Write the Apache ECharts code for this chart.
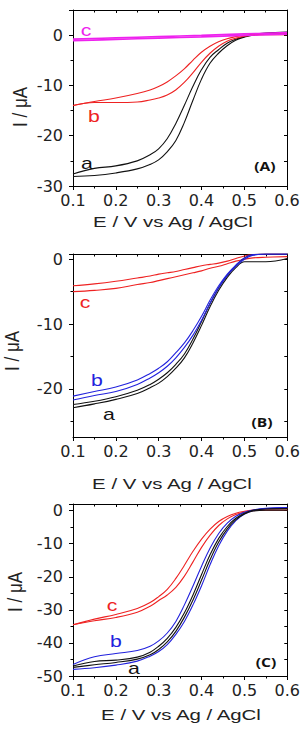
<!DOCTYPE html>
<html><head><meta charset="utf-8">
<script src="https://cdn.jsdelivr.net/npm/echarts@6/dist/echarts.min.js"></script>
<style>html,body{margin:0;padding:0;background:#fff}#c{width:303px;height:732px}</style>
</head><body><div id="c"></div>
<script>
// Potential grid (V vs Ag/AgCl)
const E = [0.10,0.15,0.20,0.25,0.28,0.30,0.32,0.34,0.36,0.38,0.40,0.42,0.44,0.46,0.48,0.50,0.52,0.55,0.60];
const E_lin = [0.1,0.2,0.3,0.4,0.5,0.6];

// Tick values
const xMin = 0.1, xMax = 0.6, xStep = 0.1;
const yMajorA = [-30,-20,-10,0], yMinorA = [-25,-15,-5];
const yMajorB = [-20,-10,0],     yMinorB = [-25,-15,-5];
const yMajorC = [-50,-40,-30,-20,-10,0], yMinorC = [-45,-35,-25,-15,-5];

// Panel A (current, µA)
const A_a_up  = [-27.6,-26.5,-26.0,-25.0,-23.8,-22.6,-20.6,-17.6,-14.0,-10.2,-6.9,-4.4,-2.9,-1.6,-0.8,-0.3,0.1,0.4,0.6];
const A_a_dn  = [-28.1,-27.9,-27.4,-26.6,-25.7,-24.8,-23.2,-21.0,-17.4,-13.0,-8.8,-5.6,-3.6,-2.1,-1.0,-0.4,0.0,0.2,0.3];
const A_b_up  = [-14.0,-13.2,-12.5,-11.6,-10.9,-10.2,-9.3,-8.1,-6.7,-5.0,-3.4,-2.2,-1.3,-0.7,-0.3,0.0,0.1,0.2,0.3];
const A_b_dn  = [-14.0,-13.4,-13.4,-13.3,-12.9,-12.5,-11.9,-10.9,-9.4,-7.5,-5.4,-3.6,-2.2,-1.2,-0.6,-0.2,0.0,0.1,0.1];
const A_c_up  = [-0.8,-0.55,-0.3,-0.05,0.25,0.5];
const A_c_dn  = [-1.1,-0.85,-0.6,-0.35,-0.05,0.2];

// Panel B
const B_c_up  = [-4.1,-3.8,-3.4,-2.9,-2.6,-2.3,-2.1,-1.9,-1.6,-1.3,-1.0,-0.8,-0.6,-0.3,0.1,0.5,0.7,0.8,0.8];
const B_c_dn  = [-5.0,-4.8,-4.5,-3.9,-3.6,-3.3,-3.0,-2.7,-2.4,-2.1,-1.8,-1.4,-1.1,-0.7,-0.3,0.0,0.2,0.3,0.4];
const B_a_up  = [-22.4,-21.9,-21.2,-20.2,-19.3,-18.5,-17.5,-16.2,-14.6,-12.3,-9.6,-6.8,-4.4,-2.5,-1.0,0.2,0.7,0.8,0.8];
const B_a_dn  = [-22.9,-22.3,-21.6,-20.7,-19.8,-19.1,-18.1,-16.8,-15.2,-12.9,-10.2,-7.3,-4.8,-2.8,-1.3,-0.4,-0.4,-0.4,0.1];
const B_b_up  = [-21.1,-20.4,-19.7,-18.6,-17.6,-16.8,-15.8,-14.4,-12.9,-11.0,-8.8,-6.3,-4.1,-2.3,-0.9,0.2,0.7,0.8,0.8];
const B_b_dn  = [-21.7,-21.0,-20.4,-19.3,-18.3,-17.5,-16.5,-15.2,-13.6,-11.7,-9.4,-6.8,-4.4,-2.5,-1.1,0.0,0.6,0.8,0.8];

// Panel C
const C_c_up  = [-34.5,-32.8,-31.4,-29.6,-27.8,-26.0,-23.8,-20.5,-16.5,-12.3,-8.6,-5.6,-3.3,-1.8,-0.8,-0.2,0.2,0.5,0.6];
const C_c_dn  = [-34.5,-33.3,-32.3,-30.7,-28.9,-27.2,-25.5,-23.2,-19.8,-15.5,-11.1,-7.4,-4.5,-2.5,-1.2,-0.4,0.0,0.1,0.1];
const C_b_up  = [-46.5,-44.2,-43.2,-42.3,-41.0,-39.4,-37.0,-33.5,-28.5,-22.8,-16.8,-11.3,-6.9,-3.8,-1.7,-0.5,0.2,0.7,0.9];
const C_b_dn  = [-48.0,-47.5,-46.7,-45.5,-44.0,-42.6,-40.5,-37.4,-33.5,-28.5,-22.7,-16.3,-10.6,-6.2,-3.0,-1.0,0.0,0.6,0.9];
const C_a_up  = [-47.0,-45.6,-45.2,-44.3,-42.8,-41.0,-38.6,-35.3,-30.9,-25.5,-19.3,-13.3,-8.4,-4.8,-2.3,-0.8,0.1,0.5,0.6];
const C_a_dn  = [-47.4,-46.6,-45.9,-44.9,-43.6,-42.0,-39.7,-36.5,-32.2,-27.0,-21.0,-14.8,-9.5,-5.5,-2.7,-1.0,-0.1,0.1,0.1];

const BLACK = '#111111', RED = '#ee2222', BLUE = '#2222dd', MAGENTA = '#ee22ee';

const panels = [
  { grid:{left:73, top:10, width:214, height:176}, yMin:-30, yMax:5, yMajor:yMajorA, yMinor:yMinorA,
    curves:[ {x:E, ys:[A_a_up, A_a_dn], color:BLACK}, {x:E, ys:[A_b_up, A_b_dn], color:RED},
             {x:E_lin, ys:[A_c_up, A_c_dn], color:MAGENTA, width:1.6} ] },
  { grid:{left:73, top:254, width:216, height:183}, yMin:-27.4, yMax:0.8, yMajor:yMajorB, yMinor:yMinorB,
    curves:[ {x:E, ys:[B_c_up, B_c_dn], color:RED}, {x:E, ys:[B_a_up, B_a_dn], color:BLACK},
             {x:E, ys:[B_b_up, B_b_dn], color:BLUE} ] },
  { grid:{left:73, top:504, width:216, height:172}, yMin:-50, yMax:2, yMajor:yMajorC, yMinor:yMinorC,
    curves:[ {x:E, ys:[C_c_up, C_c_dn], color:RED}, {x:E, ys:[C_b_up, C_b_dn], color:BLUE},
             {x:E, ys:[C_a_up, C_a_dn], color:BLACK} ] }
];

const axisLine = {show:true, onZero:false, lineStyle:{color:'#000', width:1}};
const tickFont = {color:'#222', fontSize:16, fontFamily:'DejaVu Sans'};
const grids = [], xAxes = [], yAxes = [], series = [];
panels.forEach((p, i) => {
  grids.push(Object.assign({containLabel:false}, p.grid));
  xAxes.push({gridIndex:i, type:'value', position:'bottom', min:xMin, max:xMax, interval:xStep,
    axisLine, axisTick:{show:true, inside:false, length:4, lineStyle:{color:'#000'}},
    minorTick:{show:true, splitNumber:2, length:2.5, lineStyle:{color:'#000'}},
    axisLabel:Object.assign({margin:6, formatter:v => v.toFixed(1)}, tickFont),
    splitLine:{show:false}, minorSplitLine:{show:false}});
  xAxes.push({gridIndex:i, type:'value', position:'top', min:xMin, max:xMax, interval:xStep,
    axisLine, axisTick:{show:true, inside:true, length:3, lineStyle:{color:'#000'}},
    minorTick:{show:true, splitNumber:2, length:2.5, lineStyle:{color:'#000'}},
    axisLabel:{show:false}, splitLine:{show:false}});
  yAxes.push({gridIndex:i, type:'value', position:'left', min:p.yMin, max:p.yMax,
    axisLine, axisTick:{show:true, inside:false, length:4, customValues:p.yMajor.concat([p.yMax]), lineStyle:{color:'#000'}},
    axisLabel:Object.assign({margin:10, customValues:p.yMajor}, tickFont), splitLine:{show:false}});
  yAxes.push({gridIndex:i, type:'value', position:'left', min:p.yMin, max:p.yMax,
    axisLine:{show:false, onZero:false}, axisTick:{show:true, inside:false, length:2.5, customValues:p.yMinor, lineStyle:{color:'#000'}},
    axisLabel:{show:false}, splitLine:{show:false}});
  yAxes.push({gridIndex:i, type:'value', position:'right', min:p.yMin, max:p.yMax,
    axisLine, axisTick:{show:true, inside:true, length:3, customValues:p.yMajor.concat(p.yMinor), lineStyle:{color:'#000'}},
    axisLabel:{show:false}, splitLine:{show:false}});
  p.curves.forEach(c => c.ys.forEach(ys => {
    series.push({type:'line', xAxisIndex:2*i, yAxisIndex:3*i, data:c.x.map((x,k) => [x, ys[k]]),
      smooth:0.4, showSymbol:false, silent:true, clip:true,
      lineStyle:{color:c.color, width:c.width || 1.1}, itemStyle:{color:c.color}});
  }));
});

function txt(text, x, y, color, opt) {
  opt = opt || {};
  return {type:'text', x, y, rotation:opt.rot || 0, scaleX:opt.sx || 1, scaleY:opt.sy || 1, silent:true, z:100,
    style:{text, fill:color, fontSize:opt.size || 17, fontFamily:opt.family || 'Liberation Sans',
      fontWeight:opt.weight || 'normal', textAlign:'center', textVerticalAlign:'middle', align:'center', verticalAlign:'middle'}};
}
const xTitle = 'E / V vs Ag / AgCl', yTitle = 'I / μA';
const graphics = [
  txt(xTitle, 173, 222, '#222', {size:15, sx:1.36}),
  txt(xTitle, 172, 484, '#222', {size:15, sx:1.36}),
  txt(xTitle, 181, 715, '#222', {size:15, sx:1.36}),
  txt(yTitle, 20, 107, '#222', {size:17, rot:Math.PI/2, sy:1.2}),
  txt(yTitle, 12, 351, '#222', {size:17, rot:Math.PI/2, sy:1.2}),
  txt(yTitle, 15, 592, '#222', {size:17, rot:Math.PI/2, sy:1.2}),
  txt('c', 86, 30, MAGENTA, {sx:1.25}), txt('b', 94, 116, RED, {sx:1.25}), txt('a', 87, 163, BLACK, {sx:1.25}),
  txt('(A)', 265, 166, BLACK, {size:13, family:'Open Sans', weight:'bold', sx:1.2}),
  txt('c', 85, 302, RED, {sx:1.25}), txt('b', 97, 380, BLUE, {sx:1.25}), txt('a', 109, 414, BLACK, {sx:1.25}),
  txt('(B)', 262, 422, BLACK, {size:13, family:'Open Sans', weight:'bold', sx:1.2}),
  txt('c', 112, 605, RED, {sx:1.25}), txt('b', 116, 641, BLUE, {sx:1.25}), txt('a', 134, 668, BLACK, {sx:1.25}),
  txt('(C)', 266, 662, BLACK, {size:13, family:'Open Sans', weight:'bold', sx:1.2})
];

const chart = echarts.init(document.getElementById('c'), null, {renderer:'svg', width:303, height:732});
chart.setOption({animation:false, backgroundColor:'#fff', grid:grids, xAxis:xAxes, yAxis:yAxes, series, graphic:graphics});
</script></body></html>
